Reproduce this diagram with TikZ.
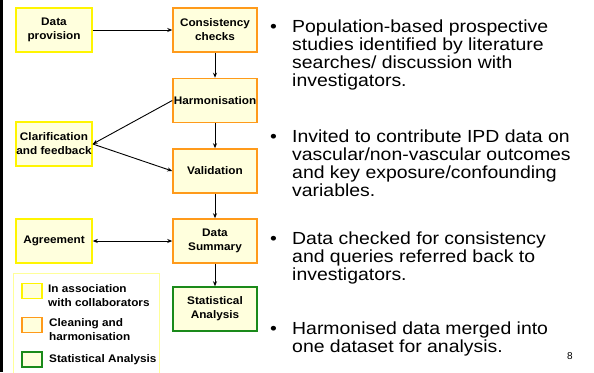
\documentclass[tikz,border=0pt]{standalone}
\usepackage{fontspec}
\setmainfont{Liberation Sans}
\newfontfamily\boxfont{Liberation Sans}[FakeStretch=1.07]
\newfontfamily\bulletfont{Liberation Sans}[FakeStretch=1.11]
\usetikzlibrary{arrows.meta}

\definecolor{boxfill}{HTML}{FFFFDD}
\definecolor{yelline}{HTML}{FFF500}
\definecolor{orgline}{HTML}{FF9A1A}
\definecolor{grnline}{HTML}{1A8A1A}
\definecolor{keyline}{HTML}{FFFF99}

\tikzset{
  stage/.style={draw, line width=1.5pt, fill=boxfill, inner sep=0pt,
    align=center, font=\boxfont\bfseries\fontsize{11}{14}\selectfont},
  partner/.style={stage, draw=yelline, minimum width=76pt, minimum height=44pt},
  cleaning/.style={stage, draw=orgline, minimum width=84pt, minimum height=44pt},
  analysis/.style={stage, draw=grnline, minimum width=84pt, minimum height=44pt},
  flow/.style={line width=0.9pt, -{Stealth[length=5pt,width=4pt]}},
  swatch/.style={draw, line width=1.2pt, fill=boxfill, minimum width=20pt,
    minimum height=15pt, inner sep=0pt},
  keytext/.style={anchor=west, inner sep=0pt, align=left,
    font=\boxfont\bfseries\fontsize{11}{14}\selectfont},
  point/.style={anchor=base west, inner sep=0pt,
    font=\bulletfont\fontsize{17.5}{18.2}\selectfont}
}

% bullet paragraph: dot, then lines hanging under the first word
\newcommand{\pointtext}[1]{\parbox[t]{310pt}{\hangindent=22pt\hangafter=1
  \noindent\makebox[22pt][l]{\textbullet}#1}}

\begin{document}
\begin{tikzpicture}[x=1pt,y=-1pt]
  \useasboundingbox (0,0) rectangle (594,372);
  \clip (0,0) rectangle (594,372);
  \fill[white] (0,0) rectangle (594,372);
  % dark strip along the left edge
  \fill[black] (0,0) rectangle (2.7,372);

  % process boxes
  \node[partner]  (prov)  at (54,30)    {Data\\provision};
  \node[cleaning] (cons)  at (215,30)   {Consistency\\checks};
  \node[cleaning] (harm)  at (215,100.5){Harmonisation};
  \node[partner]  (clar)  at (54,144)   {Clarification\\and feedback};
  \node[cleaning] (valid) at (215,171)  {Validation};
  \node[partner]  (agree) at (54,241)   {Agreement};
  \node[cleaning] (summ)  at (215,241)  {Data\\Summary};
  \node[analysis] (stat)  at (215,309)  {Statistical\\Analysis};

  % connectors
  \draw[flow] (prov.east) -- (cons.west);
  \draw[flow] (cons.south) -- (harm.north);
  \draw[flow] (harm.west) -- (clar.east);
  \draw[flow] (clar.east) -- (valid.west);
  \draw[flow] (harm.south) -- (valid.north);
  \draw[flow] (valid.south) -- (summ.north);
  \draw[flow, {Stealth[length=5pt,width=4pt]}-{Stealth[length=5pt,width=4pt]}] (agree.east) -- (summ.west);
  \draw[flow] (summ.south) -- (stat.north);

  % key
  \draw[keyline, line width=0.8pt] (13,273) rectangle (159,380);
  \node[swatch, draw=yelline] (keyy) at (32,291) {};
  \node[swatch, draw=orgline] (keyo) at (32,325) {};
  \node[swatch, draw=grnline] (keyg) at (32,359.5) {};
  \node[keytext] (keyyt) at (48,296) {In association\\with collaborators};
  \node[keytext] (keyot) at (49,330) {Cleaning and\\harmonisation};
  \node[keytext] (keygt) at (49,359.5) {Statistical Analysis};

  % notes
  \node[point] (p1) at (270,32) {\pointtext{Population-based prospective\\
    studies identified by literature\\searches/ discussion with\\investigators.}};
  \node[point] (p2) at (270,142) {\pointtext{Invited to contribute IPD data on\\
    vascular/non-vascular outcomes\\and key exposure/confounding\\variables.}};
  \node[point] (p3) at (270,244) {\pointtext{Data checked for consistency\\
    and queries referred back to\\investigators.}};
  \node[point] (p4) at (270,334) {\pointtext{Harmonised data merged into\\
    one dataset for analysis.}};

  \node[font=\fontsize{10}{12}\selectfont, inner sep=0pt] (page) at (570,356) {8};
\end{tikzpicture}
\end{document}
